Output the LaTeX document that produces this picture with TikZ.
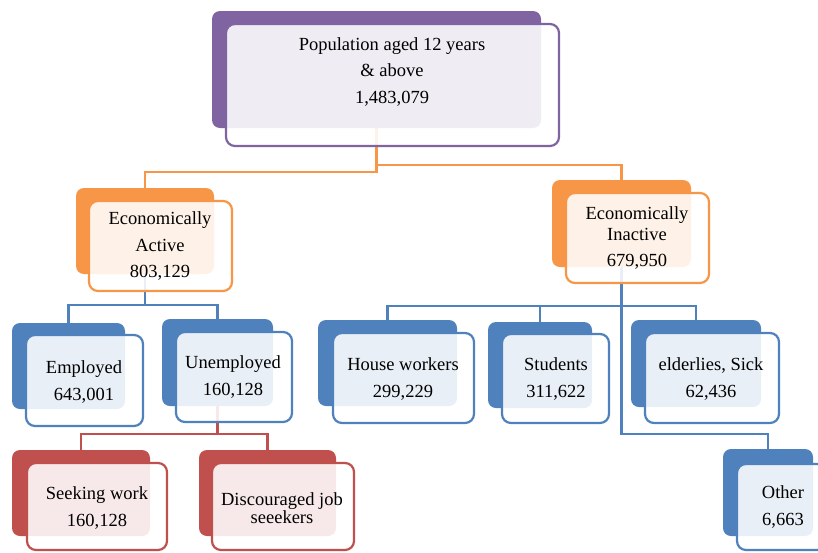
\documentclass[tikz,border=0pt]{standalone}
\usepackage{fontspec}
\setmainfont{Liberation Serif}
\usetikzlibrary{fit,backgrounds}
\definecolor{cpur}{HTML}{8064A2}
\definecolor{corange}{HTML}{F79646}
\definecolor{cblue}{HTML}{4F81BD}
\definecolor{cred}{HTML}{C0504D}
\tikzset{
 backbox/.style={fill=#1, draw=none, rounded corners=8pt, inner sep=0pt},
 frontbox/.style={draw=#1, line width=2.2pt, fill=white, fill opacity=0.88, draw opacity=1, rounded corners=9pt, inner sep=0pt},
 lbl/.style={align=center, font=\fontsize{18.5}{26.5}\selectfont, inner sep=0pt},
 conn/.style={draw=#1, line width=2.2pt},
}
\begin{document}
\begin{tikzpicture}[x=1pt,y=-1pt]
\useasboundingbox (0,0) rectangle (818,552);
% top
\node[backbox=cpur, fit={(212,11) (541,128)}] (b1) {};
\node[frontbox=cpur, fit={(226,24) (559,146)}] (f1) {};
\node[lbl] (t1) at (392,72) {Population aged 12 years\\\& above\\1,483,079};
% economically active
\node[backbox=corange, fit={(76,188) (214,274)}] (b2) {};
\node[frontbox=corange, fit={(89,201) (232,291)}] (f2) {};
\node[lbl] (t2) at (160,246) {Economically\\Active\\803,129};
% economically inactive
\node[backbox=corange, fit={(552,180) (691,267)}] (b3) {};
\node[frontbox=corange, fit={(566,193) (709,283)}] (f3) {};
\node[lbl] (t3) at (637,238) {Economically\\[-6pt]Inactive\\679,950};
% employed
\node[backbox=cblue, fit={(12,323) (125,409)}] (b4) {};
\node[frontbox=cblue, fit={(26,335) (143,426)}] (f4) {};
\node[lbl] (t4) at (84,382) {Employed\\643,001};
% unemployed
\node[backbox=cblue, fit={(162,319) (273,406)}] (b5) {};
\node[frontbox=cblue, fit={(176,332) (292,422)}] (f5) {};
\node[lbl] (t5) at (233,377) {Unemployed\\160,128};
% house workers
\node[backbox=cblue, fit={(318,320) (457,406)}] (b6) {};
\node[frontbox=cblue, fit={(333,333) (474,423)}] (f6) {};
\node[lbl] (t6) at (403,379) {House workers\\299,229};
% students
\node[backbox=cblue, fit={(488,322) (592,408)}] (b7) {};
\node[frontbox=cblue, fit={(502,334) (609,423)}] (f7) {};
\node[lbl] (t7) at (556,379) {Students\\311,622};
% elderlies
\node[backbox=cblue, fit={(631,320) (761,407)}] (b8) {};
\node[frontbox=cblue, fit={(645,333) (779,423)}] (f8) {};
\node[lbl] (t8) at (711,379) {elderlies, Sick\\62,436};
% seeking work
\node[backbox=cred, fit={(12,450) (150,536)}] (b9) {};
\node[frontbox=cred, fit={(27,463) (167,550)}] (f9) {};
\node[lbl] (t9) at (97,508) {Seeking work\\160,128};
% discouraged
\node[backbox=cred, fit={(199,450) (336,536)}] (b10) {};
\node[frontbox=cred, fit={(212,463) (354,550)}] (f10) {};
\node[lbl, font=\fontsize{18.5}{18}\selectfont] (t10) at (282,508) {Discouraged job\\seeekers};
% other
\node[backbox=cblue, fit={(723,449) (813,536)}] (b11) {};
\node[frontbox=cblue, fit={(737,464) (826,550)}] (f11) {};
\node[lbl] (t11) at (783,507) {Other\\6,663};
% connectors
\begin{scope}[on background layer]
\fill[white] (0,0) rectangle (818,552);
\draw[conn=corange] (b1.south) -- ++(0,44) -| (b2.north);
\draw[conn=corange] (b1.south) -- ++(0,37) -| (b3.north);
\draw[conn=cblue] (b2.south) -- ++(0,31) -| (b4.north);
\draw[conn=cblue] (b2.south) -- ++(0,31) -| (b5.north);
\draw[conn=cblue] (b3.south) -- ++(0,39) -| (b6.north);
\draw[conn=cblue] (b3.south) -- ++(0,39) -| (b7.north);
\draw[conn=cblue] (b3.south) -- ++(0,39) -| (b8.north);
\draw[conn=cblue] (b3.south) -- ++(0,167) -| (b11.north);
\draw[conn=cred] (b5.south) -- ++(0,28) -| (b9.north);
\draw[conn=cred] (b5.south) -- ++(0,28) -| (b10.north);
\end{scope}
\end{tikzpicture}
\end{document}
